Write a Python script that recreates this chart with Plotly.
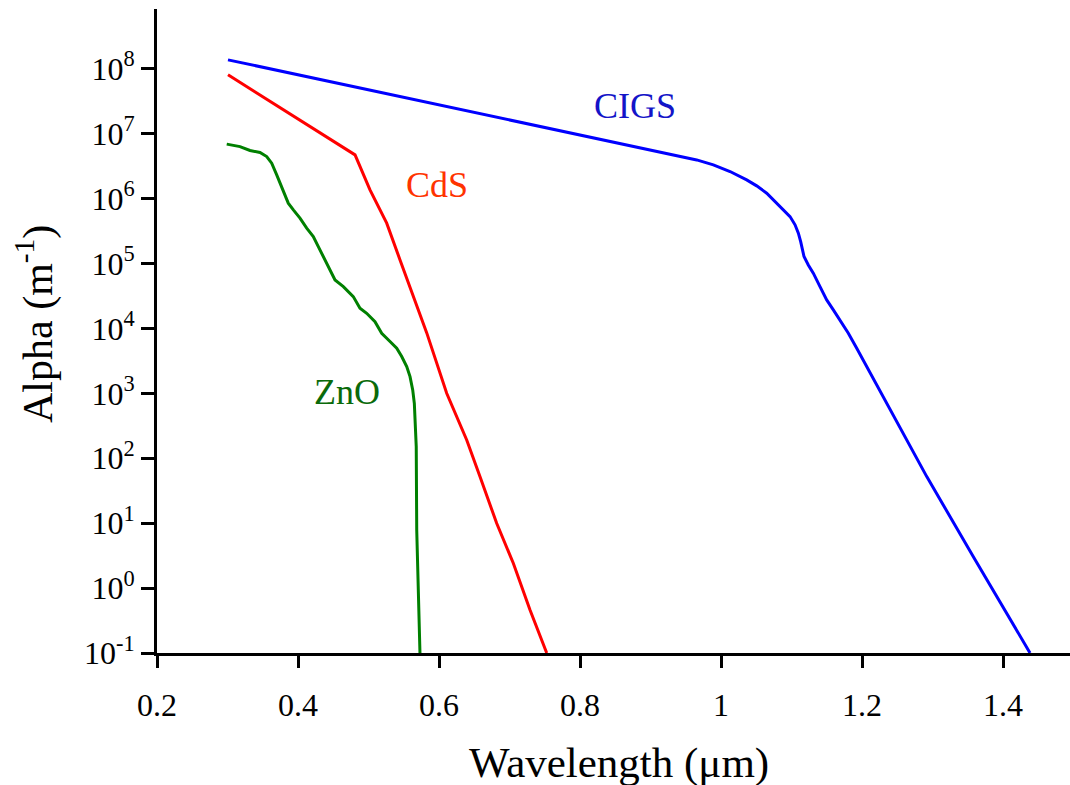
import plotly.graph_objects as go

# ---- data (wavelength in µm, absorption coefficient alpha in 1/m) ----
cigs_wl = [0.3007, 0.6298, 0.800, 0.9418, 0.9655, 0.9891, 1.0128, 1.0364, 1.0506,
           1.0648, 1.0790, 1.0908, 1.0979, 1.1050, 1.1097, 1.1130, 1.1159, 1.1177,
           1.1238, 1.1309, 1.1404, 1.1499, 1.1593, 1.1688, 1.1806, 1.1925, 1.2302,
           1.2918, 1.3579, 1.4383]
cigs_alpha = [1.37e8, 2.36e7, 9.6e6, 4.44e6, 3.94e6, 3.30e6, 2.61e6, 1.94e6, 1.57e6,
              1.21e6, 8.49e5, 6.47e5, 5.28e5, 3.94e5, 2.93e5, 2.17e5, 1.62e5, 1.28e5,
              9.5e4, 7.1e4, 4.41e4, 2.75e4, 1.93e4, 1.35e4, 8.43e3, 4.95e3, 889,
              52.1, 3.05, 0.1]

cds_wl = [0.3007, 0.4809, 0.5021, 0.5258, 0.5447, 0.5636, 0.5826, 0.6109, 0.6393,
          0.6582, 0.6818, 0.7054, 0.7291, 0.7528]
cds_alpha = [8.05e7, 4.71e6, 1.36e6, 4.18e5, 1.135e5, 3.09e4, 8.53e3, 1.0e3, 191,
             52, 9.95, 2.41, 0.46, 0.1]

zno_wl = [0.2989, 0.3177, 0.3319, 0.3461, 0.3556, 0.3627, 0.3698, 0.3769, 0.3862,
          0.3934, 0.4028, 0.4123, 0.4217, 0.4288, 0.4359, 0.4430, 0.4525, 0.4643,
          0.4784, 0.4879, 0.4974, 0.5092, 0.5187, 0.5305, 0.5400, 0.5471, 0.5542,
          0.5589, 0.5627, 0.5650, 0.5660, 0.5674, 0.5677, 0.5684, 0.5730]
zno_alpha = [6.9e6, 6.32e6, 5.50e6, 5.12e6, 4.44e6, 3.51e6, 2.32e6, 1.53e6, 8.49e5,
             6.70e5, 4.99e5, 3.50e5, 2.60e5, 1.82e5, 1.28e5, 8.95e4, 5.58e4, 4.41e4,
             3.09e4, 2.05e4, 1.71e4, 1.27e4, 8.43e3, 6.27e3, 4.95e3, 3.68e3, 2.58e3,
             1.81e3, 1.13e3, 703, 389, 243, 151, 7.85, 0.1]

y_tickvals = [1e-1, 1e0, 1e1, 1e2, 1e3, 1e4, 1e5, 1e6, 1e7, 1e8]
y_ticktext = ["10<sup>-1</sup>", "10<sup>0</sup>", "10<sup>1</sup>", "10<sup>2</sup>",
              "10<sup>3</sup>", "10<sup>4</sup>", "10<sup>5</sup>", "10<sup>6</sup>",
              "10<sup>7</sup>", "10<sup>8</sup>"]
x_tickvals = [0.2, 0.4, 0.6, 0.8, 1.0, 1.2, 1.4]
x_ticktext = ["0.2", "0.4", "0.6", "0.8", "1", "1.2", "1.4"]

FONT = "Liberation Serif"

fig = go.Figure()
fig.add_trace(go.Scatter(x=cigs_wl, y=cigs_alpha, mode="lines",
                         line=dict(color="#0000FF", width=3), name="CIGS"))
fig.add_trace(go.Scatter(x=cds_wl, y=cds_alpha, mode="lines",
                         line=dict(color="#FF0000", width=3), name="CdS"))
fig.add_trace(go.Scatter(x=zno_wl, y=zno_alpha, mode="lines",
                         line=dict(color="#008000", width=3), name="ZnO"))

annotations = [
    dict(x=0.878, y=7.43, xref="x", yref="y", text="CIGS", showarrow=False,
         xanchor="center", yanchor="middle",
         font=dict(family=FONT, size=36, color="#1414C8")),
    dict(x=0.597, y=6.21, xref="x", yref="y", text="CdS", showarrow=False,
         xanchor="center", yanchor="middle",
         font=dict(family=FONT, size=36, color="#FF3300")),
    dict(x=0.4695, y=3.02, xref="x", yref="y", text="ZnO", showarrow=False,
         xanchor="center", yanchor="middle",
         font=dict(family=FONT, size=36, color="#0A6A0A")),
    dict(x=(619 - 157) / 913, y=(653 - 763) / 644, xref="paper", yref="paper",
         text="Wavelength (\u03bcm)", showarrow=False,
         xanchor="center", yanchor="middle",
         font=dict(family=FONT, size=43, color="black")),
    dict(x=(35 - 157) / 913, y=(653 - 324) / 644, xref="paper", yref="paper",
         text="Alpha (m<sup>-1</sup>)", showarrow=False, textangle=-90,
         xanchor="center", yanchor="middle",
         font=dict(family=FONT, size=42, color="black")),
]

fig.update_layout(
    width=1070, height=785,
    margin=dict(l=157, r=0, t=9, b=132),
    paper_bgcolor="white", plot_bgcolor="white",
    showlegend=False,
    font=dict(family=FONT, color="black"),
    annotations=annotations,
    xaxis=dict(range=[0.2, 1.495], tickvals=x_tickvals, ticktext=x_ticktext,
               showline=True, linecolor="black", linewidth=3,
               ticks="outside", ticklen=12, tickwidth=3, tickcolor="black",
               ticklabelstandoff=10,
               showgrid=False, zeroline=False,
               tickfont=dict(family=FONT, size=32, color="black")),
    yaxis=dict(type="log", range=[-1, 8.92], tickvals=y_tickvals, ticktext=y_ticktext,
               showline=True, linecolor="black", linewidth=3,
               ticks="outside", ticklen=13, tickwidth=3, tickcolor="black",
               showgrid=False, zeroline=False,
               tickfont=dict(family=FONT, size=32, color="black")),
)

fig.write_html("out.html")
